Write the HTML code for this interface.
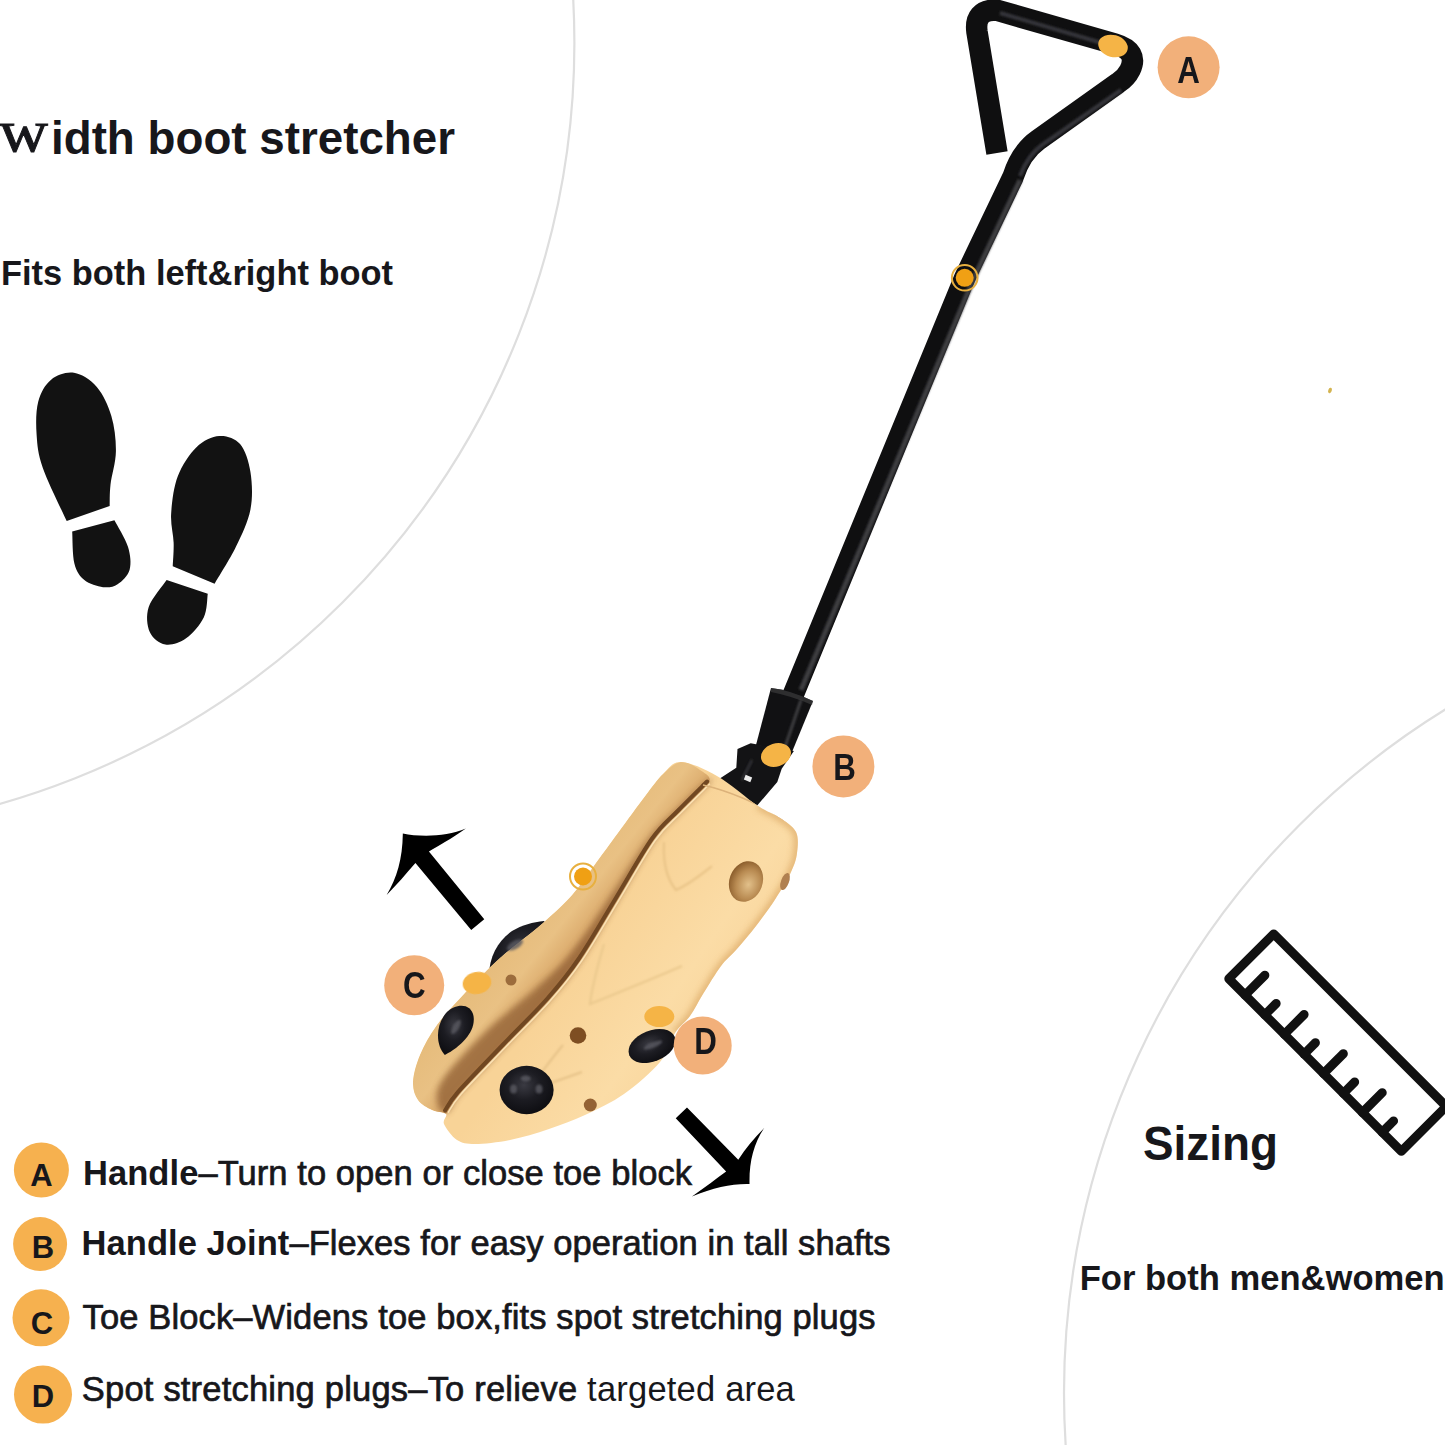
<!DOCTYPE html>
<html><head><meta charset="utf-8">
<style>
html,body{margin:0;padding:0;background:#fff;}
body{width:1445px;height:1445px;overflow:hidden;position:relative;}
svg{position:absolute;left:0;top:0;}
text{font-family:"Liberation Sans",sans-serif;fill:#17171b;}
.m{stroke:#17171b;stroke-width:0.7px;}
text.serif{font-family:"Liberation Serif",serif;}
</style></head>
<body>
<svg width="1445" height="1445" viewBox="0 0 1445 1445">
<defs>
  <linearGradient id="leftg" gradientUnits="userSpaceOnUse" x1="530" y1="912" x2="580" y2="952">
    <stop offset="0" stop-color="#e6bc7c"/>
    <stop offset="0.5" stop-color="#e9c184"/>
    <stop offset="0.85" stop-color="#dcac6e"/>
    <stop offset="1" stop-color="#c8925a"/>
  </linearGradient>
  <linearGradient id="rightg" gradientUnits="userSpaceOnUse" x1="600" y1="930" x2="760" y2="1040">
    <stop offset="0" stop-color="#f8d397"/>
    <stop offset="0.5" stop-color="#fbdca6"/>
    <stop offset="1" stop-color="#f6d095"/>
  </linearGradient>
  <radialGradient id="plugg" cx="0.45" cy="0.4" r="0.6">
    <stop offset="0" stop-color="#3a3a42"/>
    <stop offset="0.5" stop-color="#1c1c22"/>
    <stop offset="1" stop-color="#0e0e12"/>
  </radialGradient>
  <radialGradient id="holeg" cx="0.6" cy="0.55" r="0.6">
    <stop offset="0" stop-color="#e2c08a"/>
    <stop offset="0.6" stop-color="#b98b52"/>
    <stop offset="1" stop-color="#8c5e2c"/>
  </radialGradient>
  <filter id="blur3" x="-20%" y="-20%" width="140%" height="140%"><feGaussianBlur stdDeviation="3"/></filter>
  <filter id="blur2" x="-20%" y="-20%" width="140%" height="140%"><feGaussianBlur stdDeviation="2"/></filter>
  <filter id="blur05" x="-20%" y="-20%" width="140%" height="140%"><feGaussianBlur stdDeviation="0.6"/></filter>
  <filter id="blur1" x="-20%" y="-20%" width="140%" height="140%"><feGaussianBlur stdDeviation="1.2"/></filter>
</defs>

<circle cx="-216.6" cy="43" r="791" fill="none" stroke="#dedede" stroke-width="2.2"/>
<circle cx="1867" cy="1393" r="803" fill="none" stroke="#dedede" stroke-width="2.2"/>
<text x="-1" y="151" class="serif" font-size="60" stroke="#17171b" stroke-width="0.9" textLength="49" lengthAdjust="spacingAndGlyphs">w</text>
<text x="51" y="154" font-size="47" font-weight="bold" textLength="404" lengthAdjust="spacingAndGlyphs">idth boot stretcher</text>
<text x="1" y="285" font-size="35.5" font-weight="bold" textLength="392" lengthAdjust="spacingAndGlyphs">Fits both left&amp;right boot</text>
<g transform="translate(20,360) scale(0.20761)" fill="#121212">
<path d="M432.0,703.0 C432.7,685.8 431.0,643.8 436.0,600.0 C441.0,556.2 461.3,495.0 462.0,440.0 C462.7,385.0 455.3,321.7 440.0,270.0 C424.7,218.3 400.0,164.7 370.0,130.0 C340.0,95.3 296.7,67.8 260.0,62.0 C223.3,56.2 178.7,72.0 150.0,95.0 C121.3,118.0 99.7,155.8 88.0,200.0 C76.3,244.2 76.3,306.7 80.0,360.0 C83.7,413.3 85.8,450.7 110.0,520.0 C134.2,589.3 205.8,733.3 225.0,776.0 Z"/>
<path d="M454.7,772.0 C465.6,793.3 507.8,860.3 520.0,900.0 C532.2,939.7 536.3,980.0 528.0,1010.0 C519.7,1040.0 491.3,1066.0 470.0,1080.0 C448.7,1094.0 426.7,1097.3 400.0,1094.0 C373.3,1090.7 333.0,1079.0 310.0,1060.0 C287.0,1041.0 271.8,1019.1 262.0,980.0 C252.2,940.9 253.2,851.3 251.4,825.6 Z"/>
<path d="M735.7,993.7 C736.4,974.8 741.3,922.3 740.0,880.0 C738.7,837.7 724.7,793.3 728.0,740.0 C731.3,686.7 739.7,613.3 760.0,560.0 C780.3,506.7 816.7,452.3 850.0,420.0 C883.3,387.7 925.0,368.5 960.0,366.0 C995.0,363.5 1035.0,376.0 1060.0,405.0 C1085.0,434.0 1101.7,487.5 1110.0,540.0 C1118.3,592.5 1121.7,660.0 1110.0,720.0 C1098.3,780.0 1068.8,840.3 1040.0,900.0 C1011.2,959.7 954.5,1048.3 937.4,1078.0 Z"/>
<path d="M904.4,1125.7 C901.2,1144.8 902.4,1204.3 885.0,1240.0 C867.6,1275.7 830.8,1318.3 800.0,1340.0 C769.2,1361.7 729.2,1375.0 700.0,1370.0 C670.8,1365.0 638.3,1340.0 625.0,1310.0 C611.7,1280.0 606.4,1231.7 620.0,1190.0 C633.6,1148.3 692.0,1081.4 706.4,1059.7 Z"/>
</g>
<path d="M997,153 L977,32 Q974,10 996,10 L1115,44 Q1139,51 1130,70 Q1126,78 1118,83 L1038,140 Q1021,152 1013,177 L964.7,277.8 L791,700" fill="none" stroke="#0f0f10" stroke-width="21.5" stroke-linejoin="round"/>
<path d="M1020,180 L973,280 L801,690" fill="none" stroke="#3c3c40" stroke-width="5" filter="url(#blur1)"/>
<path d="M1000,13 L1112,46" fill="none" stroke="#36363a" stroke-width="4" filter="url(#blur1)"/>
<path d="M1121,90 L1042,145 Q1028,155 1020,176" fill="none" stroke="#36363a" stroke-width="4" filter="url(#blur1)"/>
<path d="M771,688 Q790,690 813,701 L792,752 L756,745 Z" fill="#111113"/>
<path d="M771,688 Q790,690 813,701 L812,705 Q792,696 771,692 Z" fill="#3a3a3c" opacity="0.7"/>
<path d="M801,700 L784,750" fill="none" stroke="#48484c" stroke-width="3" filter="url(#blur1)" opacity="0.8"/>
<path d="M750.7,743.3 L737.5,748.9 L736.3,767.7 L717.5,779.9 L724.2,789.8 L757.4,805.3 L777.3,782.1 L781.7,768.8 L793.9,751.1 Z" fill="#131315"/>
<path d="M752,760 L742,780" fill="none" stroke="#2c2c30" stroke-width="3" filter="url(#blur1)"/>
<rect x="744.5" y="776" width="7" height="5" transform="rotate(22 748 778.5)" fill="#ececec"/>
<path d="M489,976 C489,956 499,940 512,931 C522,925 533,922 544,921 L566,946 L515,996 Z" fill="url(#plugg)"/>
<clipPath id="woodclip"><path d="M681.0,762.0 C690.0,762.3 704.2,768.7 717.0,776.0 C729.8,783.3 747.5,799.0 758.0,806.0 C768.5,813.0 773.7,813.7 780.0,818.0 C786.3,822.3 793.2,826.2 796.0,832.0 C798.8,837.8 797.8,846.3 797.0,853.0 C796.2,859.7 794.5,864.5 791.0,872.0 C787.5,879.5 781.8,889.0 776.0,898.0 C770.2,907.0 762.7,917.3 756.0,926.0 C749.3,934.7 741.8,943.3 736.0,950.0 C730.2,956.7 726.5,958.7 721.0,966.0 C715.5,973.3 708.2,985.7 703.0,994.0 C697.8,1002.3 694.7,1009.5 690.0,1016.0 C685.3,1022.5 680.0,1025.3 675.0,1033.0 C670.0,1040.7 668.5,1051.8 660.0,1062.0 C651.5,1072.2 636.5,1085.2 624.0,1094.0 C611.5,1102.8 597.5,1109.2 585.0,1115.0 C572.5,1120.8 561.5,1124.8 549.0,1129.0 C536.5,1133.2 522.3,1137.5 510.0,1140.0 C497.7,1142.5 483.8,1144.0 475.0,1144.0 C466.2,1144.0 462.2,1143.3 457.0,1140.0 C451.8,1136.7 445.8,1128.3 444.0,1124.0 C442.2,1119.7 448.0,1116.3 446.0,1114.0 C444.0,1111.7 436.7,1112.3 432.0,1110.0 C427.3,1107.7 421.2,1104.7 418.0,1100.0 C414.8,1095.3 412.7,1089.5 413.0,1082.0 C413.3,1074.5 416.0,1064.5 420.0,1055.0 C424.0,1045.5 429.5,1035.3 437.0,1025.0 C444.5,1014.7 454.5,1004.2 465.0,993.0 C475.5,981.8 487.0,969.7 500.0,958.0 C513.0,946.3 530.8,933.7 543.0,923.0 C555.2,912.3 564.2,904.0 573.0,894.0 C581.8,884.0 588.5,873.2 596.0,863.0 C603.5,852.8 609.7,844.3 618.0,833.0 C626.3,821.7 638.5,804.8 646.0,795.0 C653.5,785.2 657.2,779.5 663.0,774.0 C668.8,768.5 672.0,761.7 681.0,762.0 Z"/></clipPath>
<path d="M681.0,762.0 C690.0,762.3 704.2,768.7 717.0,776.0 C729.8,783.3 747.5,799.0 758.0,806.0 C768.5,813.0 773.7,813.7 780.0,818.0 C786.3,822.3 793.2,826.2 796.0,832.0 C798.8,837.8 797.8,846.3 797.0,853.0 C796.2,859.7 794.5,864.5 791.0,872.0 C787.5,879.5 781.8,889.0 776.0,898.0 C770.2,907.0 762.7,917.3 756.0,926.0 C749.3,934.7 741.8,943.3 736.0,950.0 C730.2,956.7 726.5,958.7 721.0,966.0 C715.5,973.3 708.2,985.7 703.0,994.0 C697.8,1002.3 694.7,1009.5 690.0,1016.0 C685.3,1022.5 680.0,1025.3 675.0,1033.0 C670.0,1040.7 668.5,1051.8 660.0,1062.0 C651.5,1072.2 636.5,1085.2 624.0,1094.0 C611.5,1102.8 597.5,1109.2 585.0,1115.0 C572.5,1120.8 561.5,1124.8 549.0,1129.0 C536.5,1133.2 522.3,1137.5 510.0,1140.0 C497.7,1142.5 483.8,1144.0 475.0,1144.0 C466.2,1144.0 462.2,1143.3 457.0,1140.0 C451.8,1136.7 445.8,1128.3 444.0,1124.0 C442.2,1119.7 448.0,1116.3 446.0,1114.0 C444.0,1111.7 436.7,1112.3 432.0,1110.0 C427.3,1107.7 421.2,1104.7 418.0,1100.0 C414.8,1095.3 412.7,1089.5 413.0,1082.0 C413.3,1074.5 416.0,1064.5 420.0,1055.0 C424.0,1045.5 429.5,1035.3 437.0,1025.0 C444.5,1014.7 454.5,1004.2 465.0,993.0 C475.5,981.8 487.0,969.7 500.0,958.0 C513.0,946.3 530.8,933.7 543.0,923.0 C555.2,912.3 564.2,904.0 573.0,894.0 C581.8,884.0 588.5,873.2 596.0,863.0 C603.5,852.8 609.7,844.3 618.0,833.0 C626.3,821.7 638.5,804.8 646.0,795.0 C653.5,785.2 657.2,779.5 663.0,774.0 C668.8,768.5 672.0,761.7 681.0,762.0 Z" fill="url(#rightg)"/>
<g clip-path="url(#woodclip)">
<path d="M758.0,806.0 C761.7,808.0 773.7,813.7 780.0,818.0 C786.3,822.3 793.2,826.2 796.0,832.0 C798.8,837.8 797.8,846.3 797.0,853.0 C796.2,859.7 794.5,864.5 791.0,872.0 C787.5,879.5 781.8,889.0 776.0,898.0 C770.2,907.0 762.7,917.3 756.0,926.0 C749.3,934.7 741.8,943.3 736.0,950.0 C730.2,956.7 726.5,958.7 721.0,966.0 C715.5,973.3 708.2,985.7 703.0,994.0 C697.8,1002.3 694.7,1009.5 690.0,1016.0 C685.3,1022.5 677.5,1030.2 675.0,1033.0" fill="none" stroke="#e0b070" stroke-width="7" filter="url(#blur3)" opacity="0.9"/>
<path d="M681.0,762.0 C674.8,762.7 668.8,768.5 663.0,774.0 C657.2,779.5 653.5,785.2 646.0,795.0 C638.5,804.8 626.3,821.7 618.0,833.0 C609.7,844.3 603.5,852.8 596.0,863.0 C588.5,873.2 581.8,884.0 573.0,894.0 C564.2,904.0 555.2,912.3 543.0,923.0 C530.8,933.7 513.0,946.3 500.0,958.0 C487.0,969.7 475.5,981.8 465.0,993.0 C454.5,1004.2 444.5,1014.7 437.0,1025.0 C429.5,1035.3 424.0,1045.5 420.0,1055.0 C416.0,1064.5 413.3,1074.5 413.0,1082.0 C412.7,1089.5 414.8,1095.3 418.0,1100.0 C421.2,1104.7 427.2,1107.8 432.0,1110.0 C436.8,1112.2 442.3,1115.8 447.0,1113.0 C451.7,1110.2 450.3,1104.6 460.0,1093.4 C469.7,1082.2 490.1,1061.6 505.0,1046.0 C519.9,1030.4 536.7,1014.3 549.3,1000.0 C561.9,985.7 569.4,976.7 580.8,960.0 C592.2,943.3 605.3,920.0 617.5,900.0 C629.7,880.0 643.6,854.7 654.0,840.0 C664.4,825.3 670.8,821.5 680.0,812.0 C689.2,802.5 705.7,790.0 709.0,783.0 C712.3,776.0 704.7,773.5 700.0,770.0 C695.3,766.5 687.2,761.3 681.0,762.0 Z" fill="url(#leftg)"/>
<path d="M709.2,783.2 C704.8,788.4 689.4,802.7 680.2,812.2 C671.1,821.7 664.7,825.5 654.2,840.2 C643.8,854.9 629.9,880.2 617.7,900.2 C605.5,920.2 592.4,943.5 581.0,960.2 C569.7,976.9 562.2,985.9 549.5,1000.2 C536.9,1014.5 520.1,1030.6 505.2,1046.2 C490.4,1061.8 469.9,1082.6 460.2,1093.6 C450.6,1104.6 451.0,1110.4 447.2,1112.2 C443.5,1114.0 438.4,1109.9 437.6,1104.5 C436.9,1099.1 434.7,1091.9 442.8,1079.7 C450.9,1067.4 470.9,1046.2 486.3,1031.0 C501.7,1015.9 521.0,1001.8 535.2,988.8 C549.4,975.7 558.8,968.1 571.4,952.5 C584.1,936.9 598.1,914.3 611.3,895.0 C624.4,875.7 639.2,851.1 650.1,836.9 C661.0,822.6 667.4,818.8 676.9,809.5 C686.3,800.2 701.3,785.5 706.7,781.1 C712.1,776.7 713.6,778.0 709.2,783.2 Z" fill="#98683a" opacity="0.85" filter="url(#blur3)"/>
<path d="M707.1,781.5 C702.3,786.3 687.3,801.0 678.1,810.5 C669.0,820.0 662.5,823.8 652.1,838.5 C641.7,853.2 627.8,878.5 615.6,898.5 C603.4,918.5 590.3,941.8 578.9,958.5 C567.6,975.2 560.1,984.2 547.4,998.5 C534.8,1012.8 518.0,1028.9 503.1,1044.5 C488.2,1060.1 467.8,1080.9 458.1,1091.9 C448.5,1102.9 447.3,1107.4 445.1,1110.5" fill="none" stroke="#704620" stroke-width="4" stroke-linecap="round" filter="url(#blur05)"/>
<path d="M709.9,783.8 C705.1,788.6 690.1,803.2 680.9,812.8 C671.8,822.2 665.4,826.1 654.9,840.8 C644.5,855.4 630.6,880.8 618.4,900.8 C606.2,920.8 593.1,944.1 581.7,960.8 C570.4,977.4 562.9,986.4 550.2,1000.8 C537.6,1015.1 520.8,1031.2 505.9,1046.8 C491.1,1062.3 470.6,1083.2 460.9,1094.2 C451.3,1105.2 450.1,1109.7 447.9,1112.8" fill="none" stroke="#fbe2b4" stroke-width="1.6" filter="url(#blur05)"/>
<path d="M664,842 C663,860 666,878 676,890 C690,884 702,874 712,866" fill="none" stroke="#e9c488" stroke-width="2.2" filter="url(#blur1)"/>
<path d="M604,944 C598,965 592,985 590,1004 C612,995 650,980 682,966" fill="none" stroke="#ebc98e" stroke-width="2.2" filter="url(#blur1)"/>
<path d="M563,1045 C552,1058 540,1075 528,1090 C545,1085 566,1078 582,1072" fill="none" stroke="#e6c288" stroke-width="2" filter="url(#blur1)"/>
<path d="M703,785 C725,790 760,803 787,822" fill="none" stroke="#dcb27a" stroke-width="1.5" filter="url(#blur05)"/>
</g>
<ellipse cx="746" cy="881.5" rx="16.6" ry="20.8" transform="rotate(20 746 881.5)" fill="url(#holeg)"/>
<ellipse cx="785" cy="881.5" rx="4" ry="9" transform="rotate(20 785 881.5)" fill="#b08050"/>
<circle cx="578" cy="1035.5" r="8.3" fill="#7e4e22"/>
<circle cx="590.3" cy="1105" r="6.5" fill="#946234"/>
<circle cx="511" cy="980" r="5.5" fill="#9c6c3c"/>
<path d="M444.8,1055 C436,1046 435,1026 446,1013 C456,1003 471,1003 473.5,1016 C476,1031 462,1046 444.8,1055 Z" fill="url(#plugg)"/>
<ellipse cx="526.6" cy="1090" rx="27" ry="24.2" fill="url(#plugg)"/>
<ellipse cx="652" cy="1046" rx="24.5" ry="15.5" transform="rotate(-22 652 1046)" fill="url(#plugg)"/>
<g fill="#5a5a62" filter="url(#blur1)" opacity="0.8">
<ellipse cx="525.7" cy="1078.5" rx="5" ry="3"/>
<ellipse cx="539" cy="1089" rx="3.5" ry="4.5"/>
<ellipse cx="513.5" cy="1089" rx="3.5" ry="4.5"/>
<ellipse cx="653" cy="1045" rx="10" ry="2.6" transform="rotate(-22 653 1045)"/>
<ellipse cx="456" cy="1027" rx="3" ry="8" transform="rotate(30 456 1027)"/>
<ellipse cx="515" cy="945" rx="9" ry="4" transform="rotate(-30 515 945)"/>
</g>
<ellipse cx="1113" cy="46" rx="15" ry="11" transform="rotate(15 1113 46)" fill="#f5b446"/>
<circle cx="964.7" cy="277.8" r="12.8" fill="none" stroke="#e8b040" stroke-width="2"/>
<circle cx="964.7" cy="277.8" r="9" fill="#f0a014"/>
<ellipse cx="776" cy="755" rx="15.3" ry="11.5" transform="rotate(-18 776 755)" fill="#f5b446"/>
<ellipse cx="477" cy="983" rx="14.4" ry="11" transform="rotate(-10 477 983)" fill="#f5b446"/>
<ellipse cx="659.3" cy="1016.6" rx="15" ry="10.5" fill="#f5b446"/>
<circle cx="583" cy="876.5" r="13" fill="none" stroke="#e8b040" stroke-width="2"/>
<circle cx="583" cy="876.5" r="9" fill="#f0a014"/>
<ellipse cx="1330" cy="390.5" rx="1.8" ry="2.8" transform="rotate(20 1330 390.5)" fill="#d4b450"/>
<circle cx="1188.6" cy="67.3" r="31" fill="#f2b07a"/>
<circle cx="843.4" cy="766.4" r="31" fill="#f2b07a"/>
<circle cx="414.2" cy="985.3" r="30" fill="#f2b07a"/>
<circle cx="702.7" cy="1045.5" r="29" fill="#f2b07a"/>
<text transform="translate(1188.5,83.2) scale(0.87,1)" x="0" y="0" font-size="36" font-weight="bold" text-anchor="middle">A</text>
<text transform="translate(844.6,779.5) scale(0.87,1)" x="0" y="0" font-size="36" font-weight="bold" text-anchor="middle">B</text>
<text transform="translate(414.3,998) scale(0.87,1)" x="0" y="0" font-size="36" font-weight="bold" text-anchor="middle">C</text>
<text transform="translate(705.5,1054.3) scale(0.87,1)" x="0" y="0" font-size="36" font-weight="bold" text-anchor="middle">D</text>
<path transform="translate(370,810) scale(0.08997)" fill="#000" d="M365,260 C550,300 850,300 1065,205 C900,320 760,400 655,460 L1270,1215 L1125,1335 L505,590 C400,710 300,830 185,945 C300,750 360,550 365,260 Z"/>
<path transform="translate(660,1090) scale(0.08997)" fill="#000" d="M995,1045 C800,1040 600,1080 355,1185 C500,1080 620,990 735,905 L175,315 L300,195 L870,775 C950,650 1050,530 1160,420 C1040,600 990,800 995,1045 Z"/>
<g transform="matrix(0.70711,0.70711,0.70711,-0.70711,1228.8,978.8)" fill="none" stroke="#111" stroke-width="9" stroke-linecap="round" stroke-linejoin="round">
<rect x="0" y="0" width="244" height="63.5"/>
<line x1="23" y1="0" x2="23" y2="28"/>
<line x1="51" y1="0" x2="51" y2="16"/>
<line x1="78.5" y1="0" x2="78.5" y2="28"/>
<line x1="106.5" y1="0" x2="106.5" y2="16"/>
<line x1="134" y1="0" x2="134" y2="28"/>
<line x1="162" y1="0" x2="162" y2="16"/>
<line x1="189" y1="0" x2="189" y2="28"/>
<line x1="217" y1="0" x2="217" y2="16"/>
</g>
<text x="1143" y="1160.4" font-size="49" font-weight="bold" textLength="135" lengthAdjust="spacingAndGlyphs">Sizing</text>
<text x="1079.7" y="1290.2" font-size="35.8" font-weight="bold" textLength="365" lengthAdjust="spacingAndGlyphs">For both men&amp;women</text>
<circle cx="41.4" cy="1170" r="27.5" fill="#f6b14f"/>
<circle cx="40.1" cy="1244.1" r="27" fill="#f6b14f"/>
<circle cx="41" cy="1317.8" r="28.5" fill="#f6b14f"/>
<circle cx="43" cy="1394.6" r="29" fill="#f6b14f"/>
<text x="41.4" y="1186.2" font-size="31" font-weight="bold" text-anchor="middle">A</text>
<text x="43" y="1258.4" font-size="31" font-weight="bold" text-anchor="middle">B</text>
<text x="42" y="1333.5" font-size="31" font-weight="bold" text-anchor="middle">C</text>
<text x="43" y="1407.3" font-size="31" font-weight="bold" text-anchor="middle">D</text>
<text x="83" y="1184.6" font-size="34.5" font-weight="bold" textLength="609">Handle<tspan font-weight="normal" class="m">–Turn to open or close toe block</tspan></text>
<text x="81.5" y="1254.6" font-size="34.5" font-weight="bold" textLength="809">Handle Joint<tspan font-weight="normal" class="m">–Flexes for easy operation in tall shafts</tspan></text>
<text x="82.5" y="1329.3" font-size="34.5" class="m" textLength="793">Toe Block–Widens toe box,fits spot stretching plugs</text>
<text x="81.8" y="1401" font-size="34.5" textLength="713"><tspan class="m">Spot stretching plugs–To relieve </tspan>targeted area</text>
</svg>
</body></html>
